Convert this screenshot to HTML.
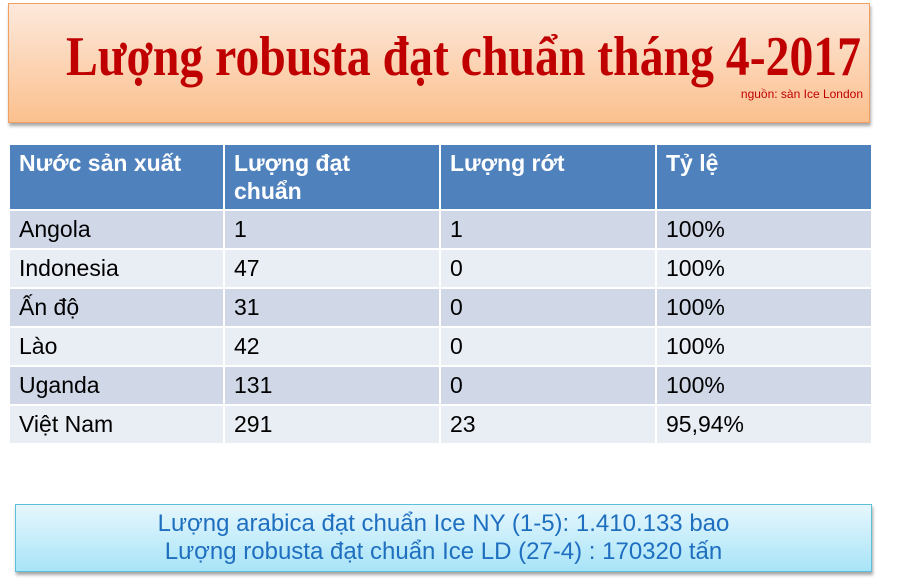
<!DOCTYPE html>
<html><head><meta charset="utf-8"><style>
body{margin:0;width:906px;height:587px;background:#fff;position:relative;overflow:hidden;font-family:"Liberation Sans",sans-serif}
#title{position:absolute;left:8px;top:3px;width:862px;height:120px;border:1px solid #f0a060;box-sizing:border-box;background:linear-gradient(#fde9dc,#fbc08e);box-shadow:1px 3px 3px rgba(0,0,0,.35)}
table{position:absolute;left:8px;top:143px;width:863px;border-collapse:collapse;table-layout:fixed}
td,th{border:2px solid #fff;padding:0 0 0 9px;font-size:23px;text-align:left;vertical-align:middle;color:#000;white-space:nowrap}
th{background:#4f81bd;color:#fff;font-weight:bold;vertical-align:top;padding-top:4px;height:60px;line-height:28px;font-size:23px}
tr.o td{background:#d0d8e8;height:37px}
tr.e td{background:#e9edf4;height:37px}
#note{position:absolute;left:15px;top:504px;width:857px;height:68px;box-sizing:border-box;border:1px solid #5cc0d8;background:linear-gradient(#e6f7fd,#a8e4f8);box-shadow:1px 3px 3px rgba(0,0,0,.35);text-align:center;color:#1f6fc0;font-size:24px;line-height:28px;padding-top:5px}
</style></head><body>
<div id="title">
<svg width="862" height="120" style="position:absolute;left:-8px;top:-3px">
<text x="65" y="74" textLength="795" lengthAdjust="spacingAndGlyphs" font-family="Liberation Serif,serif" font-weight="bold" font-size="56" fill="#c00000">Lượng robusta đạt chuẩn tháng 4-2017</text>
<text x="862" y="97" text-anchor="end" font-family="Liberation Sans,sans-serif" font-size="12" fill="#c00000">nguồn: sàn Ice London</text>
</svg></div>
<table>
<colgroup><col style="width:215px"><col style="width:216px"><col style="width:216px"><col style="width:216px"></colgroup>
<tr><th>Nước sản xuất</th><th>Lượng đạt<br>chuẩn</th><th>Lượng rớt</th><th>Tỷ lệ</th></tr>
<tr class="o"><td>Angola</td><td>1</td><td>1</td><td>100%</td></tr>
<tr class="e"><td>Indonesia</td><td>47</td><td>0</td><td>100%</td></tr>
<tr class="o"><td>Ấn độ</td><td>31</td><td>0</td><td>100%</td></tr>
<tr class="e"><td>Lào</td><td>42</td><td>0</td><td>100%</td></tr>
<tr class="o"><td>Uganda</td><td>131</td><td>0</td><td>100%</td></tr>
<tr class="e"><td>Việt Nam</td><td>291</td><td>23</td><td>95,94%</td></tr>
</table>
<div id="note">Lượng arabica đạt chuẩn Ice NY (1-5): 1.410.133 bao<br>Lượng robusta đạt chuẩn Ice LD (27-4) : 170320 tấn</div>
</body></html>
